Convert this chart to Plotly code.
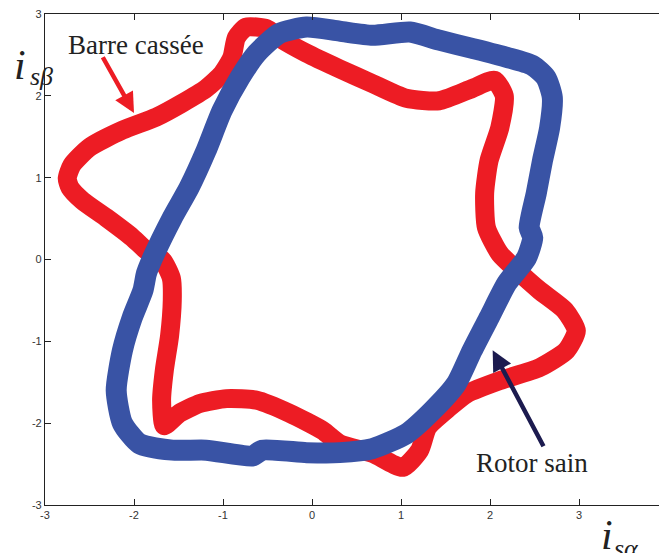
import plotly.graph_objects as go

# Barre cassée (broken bar) current trajectory, centre line of the band
red_x = [-2.75, -2.70, -2.50, -2.13, -1.75, -1.46, -1.19, -1.01, -0.90, -0.85, -0.74, -0.51, -0.37,
         -0.06, 0.31, 0.68, 1.06, 1.43, 1.80, 2.05, 2.16, 2.11, 1.99, 1.94, 1.96, 2.11, 2.30, 2.56,
         2.84, 2.97, 2.86, 2.56, 2.11, 1.74, 1.54, 1.30, 1.21, 1.02, 0.68, 0.31, 0.12, -0.25, -0.62,
         -0.96, -1.26, -1.49, -1.66, -1.69, -1.66, -1.60, -1.57, -1.58, -1.68, -1.86, -2.02, -2.31,
         -2.58, -2.72, -2.75]
red_y = [0.99, 1.15, 1.37, 1.58, 1.74, 1.91, 2.09, 2.27, 2.47, 2.71, 2.84, 2.82, 2.71,
         2.52, 2.33, 2.15, 1.97, 1.94, 2.09, 2.19, 2.00, 1.61, 1.21, 0.81, 0.39, 0.07, -0.13, -0.38,
         -0.62, -0.87, -1.11, -1.32, -1.48, -1.64, -1.81, -2.05, -2.33, -2.54, -2.37, -2.25, -2.09, -1.88, -1.72,
         -1.70, -1.76, -1.88, -2.03, -1.72, -1.36, -0.93, -0.50, -0.23, -0.01, 0.11, 0.27, 0.51,
         0.72, 0.88, 0.99]

# Rotor sain (healthy rotor) current trajectory, centre line of the band
blue_x = [-0.37, -0.06, 0.31, 0.68, 1.10, 1.43, 1.80, 2.19, 2.48, 2.63, 2.70, 2.67, 2.59, 2.52,
          2.44, 2.48, 2.41, 2.19, 1.99, 1.80, 1.62, 1.35, 1.06, 0.68, 0.31, -0.06, -0.56, -0.67,
          -1.19, -1.57, -1.94, -2.13, -2.20, -2.13, -2.02, -1.90, -1.86, -1.79, -1.57, -1.38, -1.19,
          -1.01, -0.81, -0.62, -0.37]
blue_y = [2.76, 2.84, 2.79, 2.74, 2.78, 2.68, 2.58, 2.47, 2.37, 2.22, 1.98, 1.61, 1.21, 0.81,
          0.39, 0.27, 0.02, -0.29, -0.71, -1.11, -1.52, -1.85, -2.13, -2.31, -2.36, -2.36, -2.33, -2.40,
          -2.33, -2.33, -2.25, -2.00, -1.60, -1.11, -0.71, -0.38, -0.17, 0.02, 0.51, 0.88, 1.33,
          1.82, 2.22, 2.52, 2.76]

x_ticks = [-3, -2, -1, 0, 1, 2, 3, 4]
y_ticks = [-3, -2, -1, 0, 1, 2, 3]

RED = "#ED1C24"
BLUE = "#3953A5"
NAVY = "#1C1B4F"

fig = go.Figure()
fig.add_trace(go.Scatter(x=red_x, y=red_y, mode="lines",
                         line=dict(color=RED, width=19, shape="spline", smoothing=0.6),
                         hoverinfo="skip", showlegend=False))
fig.add_trace(go.Scatter(x=blue_x, y=blue_y, mode="lines",
                         line=dict(color=BLUE, width=21, shape="spline", smoothing=0.6),
                         hoverinfo="skip", showlegend=False))

serif = "Liberation Serif, Times New Roman, serif"
TXT = "#222222"

def label(x, y, text, size):
    return dict(x=x, y=y, xref="paper", yref="paper", text=text, showarrow=False,
                xanchor="center", yanchor="middle",
                font=dict(family=serif, size=size, color=TXT))

annotations = [
    dict(x=-1.98, y=2.62, xref="x", yref="y", text="Barre cassée", showarrow=False,
         font=dict(family=serif, size=27, color=TXT)),
    dict(x=-2.0, y=1.79, xref="x", yref="y", ax=-2.36, ay=2.49, axref="x", ayref="y",
         text="", showarrow=True, arrowhead=2, arrowsize=0.9, arrowwidth=4.5,
         arrowcolor=RED, standoff=0, startstandoff=0),
    dict(x=2.47, y=-2.49, xref="x", yref="y", text="Rotor sain", showarrow=False,
         font=dict(family=serif, size=27, color=TXT)),
    dict(x=2.03, y=-1.11, xref="x", yref="y", ax=2.61, ay=-2.30, axref="x", ayref="y",
         text="", showarrow=True, arrowhead=2, arrowsize=0.9, arrowwidth=4.5,
         arrowcolor=NAVY, standoff=0, startstandoff=0),
    # y-axis label i_sβ
    label(-0.040, 0.896, "<i>i</i>", 42),
    label(-0.005, 0.872, "<i>sβ</i>", 26),
    # x-axis label i_sα
    label(0.902, -0.061, "<i>i</i>", 42),
    label(0.934, -0.088, "<i>sα</i>", 26),
]

axis_common = dict(showgrid=False, zeroline=False, ticks="inside", ticklen=6,
                   tickcolor="#222222", showline=True, linecolor="#222222", linewidth=1.2,
                   mirror="ticks", automargin=False, ticklabeloverflow="allow",
                   tickfont=dict(family="Liberation Sans, Arial, sans-serif", size=11, color="#333333"))

# the page body adds an 8 px offset; margins compensate so the axes land where the reference has them
fig.update_layout(
    width=667, height=553,
    margin=dict(l=37, r=7, t=6, b=56, autoexpand=False),
    paper_bgcolor="white", plot_bgcolor="white",
    xaxis=dict(range=[-3, 4], tickvals=x_ticks, ticktext=[str(v) for v in x_ticks], **axis_common),
    yaxis=dict(range=[-3, 3], tickvals=y_ticks, ticktext=[str(v) for v in y_ticks], **axis_common),
    annotations=annotations,
    showlegend=False,
)

fig.write_html("out.html")
